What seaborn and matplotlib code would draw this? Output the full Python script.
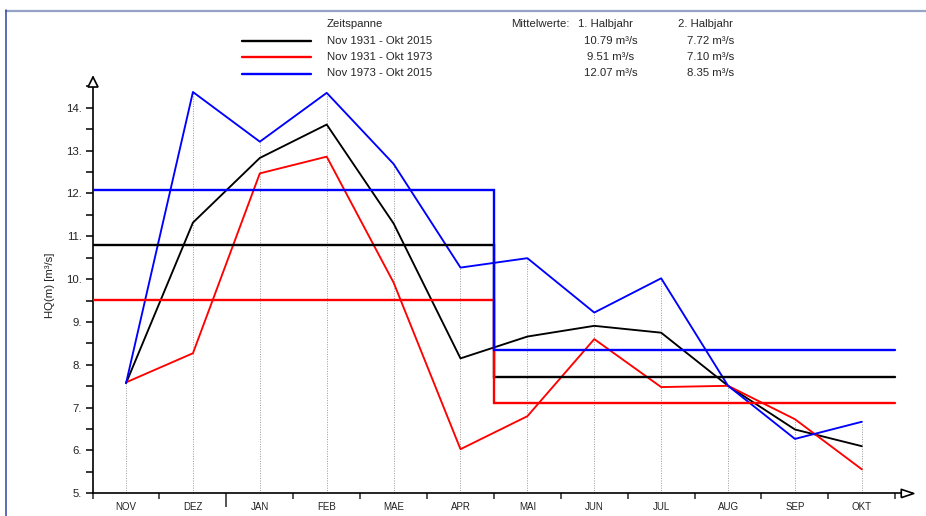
import matplotlib
matplotlib.use("Agg")
import matplotlib.pyplot as plt
from matplotlib.lines import Line2D
import seaborn as sns
import pandas as pd
import numpy as np

# ---- data ----
months = ["NOV", "DEZ", "JAN", "FEB", "MAE", "APR", "MAI", "JUN", "JUL", "AUG", "SEP", "OKT"]
series_names = ["Nov 1931 - Okt 2015", "Nov 1931 - Okt 1973", "Nov 1973 - Okt 2015"]
hq_1931_2015 = [7.57, 11.32, 12.83, 13.61, 11.30, 8.15, 8.66, 8.91, 8.75, 7.51, 6.49, 6.10]
hq_1931_1973 = [7.59, 8.27, 12.47, 12.86, 9.92, 6.03, 6.80, 8.60, 7.48, 7.51, 6.73, 5.56]
hq_1973_2015 = [7.57, 14.37, 13.21, 14.35, 12.69, 10.27, 10.49, 9.22, 10.02, 7.51, 6.27, 6.67]
mean_half1 = [10.79, 9.51, 12.07]
mean_half2 = [7.72, 7.10, 8.35]
colors = ["#000000", "#ff0000", "#0000ff"]
ytick_values = [5, 6, 7, 8, 9, 10, 11, 12, 13, 14]
ytick_labels = ["5.", "6.", "7.", "8.", "9.", "10.", "11.", "12.", "13.", "14."]

sns.set_style("white")
plt.rcParams["font.family"] = ["Liberation Sans", "DejaVu Sans"]

W, H = 926, 516
fig = plt.figure(figsize=(W / 100, H / 100), dpi=100)
ax = fig.add_axes([92.6 / W, (H - 493.3) / H, (912 - 92.6) / W, (493.3 - 77) / H])

all_series = [hq_1931_2015, hq_1931_1973, hq_1973_2015]
x_idx = np.arange(len(months))

# dotted vertical guides up to the maximum value per month
maxvals = np.max(np.array(all_series), axis=0)
ax.vlines(x_idx, 5, maxvals, colors="#999999", linestyles=(0, (1, 1.5)), linewidth=0.7, zorder=1)

# monthly lines
for name, vals, c in zip(series_names, all_series, colors):
    df = pd.DataFrame({"x": x_idx, "y": vals})
    sns.lineplot(data=df, x="x", y="y", ax=ax, color=c, linewidth=1.35, zorder=3)

# half-year means as step lines
for m1, m2, c in zip(mean_half1, mean_half2, colors):
    ax.plot([-0.5, 5.5, 5.5, 11.5], [m1, m1, m2, m2], color=c, linewidth=1.7,
            solid_joinstyle="miter", zorder=4)

ax.set_xlim(-0.5, 11.75)
ax.set_ylim(5, 14.72)
ax.set_xlabel("")
ax.set_ylabel("HQ(m) [m³/s]", fontsize=8.2, labelpad=8, color="#222222")

for s in ["top", "right"]:
    ax.spines[s].set_visible(False)
for s in ["left", "bottom"]:
    ax.spines[s].set_linewidth(1.2)
    ax.spines[s].set_color("black")

# y ticks
ax.set_yticks(ytick_values)
ax.set_yticklabels(ytick_labels)
ax.set_yticks(np.arange(5.5, 14.6, 1.0), minor=True)
ax.tick_params(axis="y", which="both", direction="out", length=5, width=1.1,
               labelsize=8.2, pad=2.5, left=True, colors="black")
ax.tick_params(axis="y", which="both", labelcolor="#222222")

# x ticks: boundaries as major ticks, month labels on minor ticks
ax.set_xticks(np.arange(-0.5, 11.6, 1.0))
ax.set_xticklabels([""] * 13)
ax.set_xticks(x_idx, minor=True)
ax.set_xticklabels(months, minor=True)
ax.tick_params(axis="x", which="major", direction="out", length=4.5, width=1.1, bottom=True)
ax.tick_params(axis="x", which="minor", length=0, labelsize=7, pad=6.5, labelcolor="#222222")
# year boundary (DEZ/JAN) tick longer
ax.xaxis.get_major_ticks()[2].tick1line.set_markersize(10)

# arrowheads
ax.plot([-0.5], [14.6], marker="^", markersize=7.5, markerfacecolor="white",
        markeredgecolor="black", markeredgewidth=1.2, clip_on=False, zorder=6)
ax.plot([11.68], [5], marker=[(-1.5, -1), (1.5, 0), (-1.5, 1), (-1.5, -1)], markersize=9,
        markerfacecolor="white", markeredgecolor="black", markeredgewidth=1.2,
        clip_on=False, zorder=6)

# legend / table at top
def fx(px):
    return px / W

def fy(py):
    return 1 - py / H

fs = 8.2
fig.text(fx(327), fy(24), "Zeitspanne", fontsize=fs, va="center", ha="left")
fig.text(fx(511), fy(24), "Mittelwerte:", fontsize=fs, va="center", ha="left")
fig.text(fx(605), fy(24), "1. Halbjahr", fontsize=fs, va="center", ha="center")
fig.text(fx(705), fy(24), "2. Halbjahr", fontsize=fs, va="center", ha="center")
row_y = [40.5, 57.3, 73.5]
for ry, name, m1, m2, c in zip(row_y, series_names, mean_half1, mean_half2, colors):
    fig.add_artist(Line2D([fx(242), fx(311)], [fy(ry), fy(ry)], color=c, linewidth=1.7))
    fig.text(fx(327), fy(ry), name, fontsize=fs, va="center", ha="left")
    fig.text(fx(611), fy(ry), f"{m1:.2f} m³/s", fontsize=fs, va="center", ha="center")
    fig.text(fx(711), fy(ry), f"{m2:.2f} m³/s", fontsize=fs, va="center", ha="center")

# frame lines of the original panel
fig.add_artist(Line2D([fx(6), 1], [fy(10.5), fy(10.5)], color="#94a3c6", linewidth=1.6))
fig.add_artist(Line2D([fx(6.3), fx(6.3)], [fy(10), 0], color="#2f47a0", linewidth=1.1))

fig.savefig("out.png", dpi=100)
